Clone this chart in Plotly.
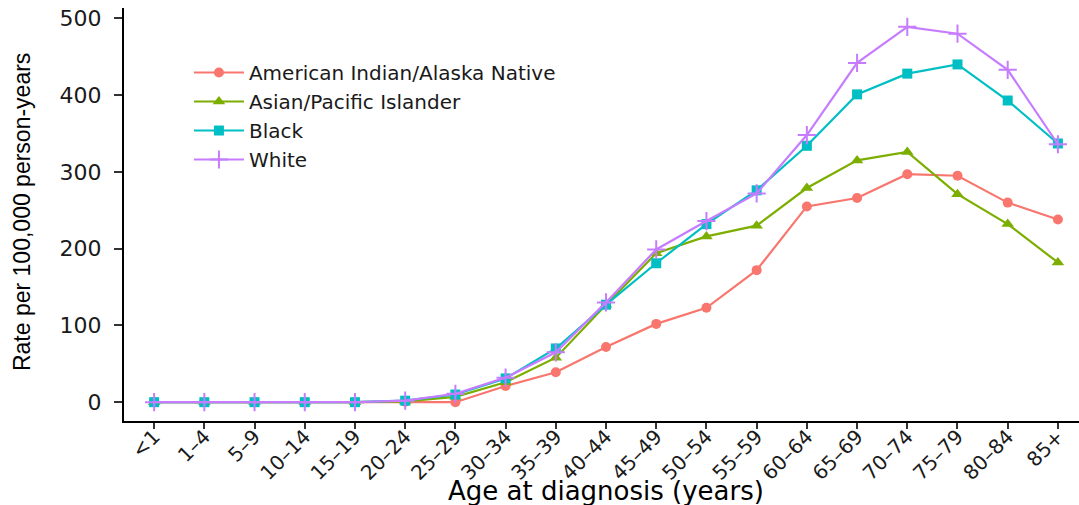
import plotly.graph_objects as go

ages = ["<1", "1-4", "5-9", "10-14", "15-19", "20-24", "25-29", "30-34", "35-39",
        "40-44", "45-49", "50-54", "55-59", "60-64", "65-69", "70-74", "75-79",
        "80-84", "85+"]
tick_labels = [a.replace("-", "–") for a in ages]

aian = [0, 0, 0, 0, 0, 0.5, 0, 21, 39, 72, 102, 123, 172, 255, 266, 297, 295, 260, 238]
api = [0, 0, 0, 0, 0, 1, 7, 26, 58, 127, 194, 216, 230, 279, 315, 326, 271, 232, 182]
black = [0, 0, 0, 0, 0, 2, 10, 31, 70, 127, 181, 232, 276, 334, 401, 428, 440, 393, 337]
white = [0, 0, 0, 0, 0, 2, 11, 32, 65, 130, 199, 236, 272, 348, 442, 489, 480, 433, 336]

series = [
    ("American Indian/Alaska Native", aian, "#F8766D", "circle", 10),
    ("Asian/Pacific Islander", api, "#7CAE00", "triangle-up", 11),
    ("Black", black, "#00BFC4", "square", 10),
    ("White", white, "#C77CFF", "cross-thin", 13),
]

x_idx = list(range(len(ages)))

fig = go.Figure()
for name, vals, color, sym, size in series:
    marker = dict(color=color, symbol=sym, size=size)
    if sym == "cross-thin":
        marker["line"] = dict(color=color, width=2)
    fig.add_trace(go.Scatter(
        x=x_idx, y=vals, name=name, mode="lines+markers",
        line=dict(color=color, width=2.2), marker=marker,
    ))

fig.update_layout(
    width=1079, height=505,
    margin=dict(l=124, r=0, t=8, b=84),
    paper_bgcolor="white", plot_bgcolor="white",
    font=dict(family="DejaVu Sans", color="black"),
    showlegend=True,
    legend=dict(
        x=0.068, y=0.891, xanchor="left", yanchor="top",
        font=dict(family="DejaVu Sans", size=20, color="#1a1a1a"),
        bgcolor="rgba(0,0,0,0)", tracegroupgap=0, itemwidth=50,
    ),
    xaxis=dict(
        range=[-0.6, 18.42], automargin=False,
        tickmode="array", tickvals=x_idx, ticktext=tick_labels,
        tickangle=-45, tickfont=dict(family="DejaVu Sans", size=20, color="#1a1a1a"),
        showline=True, linecolor="black", linewidth=2, mirror=False,
        ticks="outside", ticklen=6, tickcolor="#333333", tickwidth=1.5,
        ticklabelstandoff=-12, ticklabeloverflow="allow",
        showgrid=False, zeroline=False,
    ),
    yaxis=dict(
        range=[-24.5, 513.5], automargin=False,
        tickvals=[0, 100, 200, 300, 400, 500],
        tickfont=dict(family="DejaVu Sans", size=22, color="#1a1a1a"),
        showline=True, linecolor="black", linewidth=2,
        ticks="outside", ticklen=8, tickcolor="#333333", tickwidth=1.5,
        ticklabelstandoff=8, ticklabeloverflow="allow",
        showgrid=False, zeroline=False,
    ),
    annotations=[
        dict(text="Age at diagnosis (years)", xref="paper", yref="paper",
             x=0.505, y=-0.1695, xanchor="center", yanchor="middle", showarrow=False,
             font=dict(family="DejaVu Sans", size=26, color="black")),
        dict(text="Rate per 100,000 person-years", xref="paper", yref="paper",
             x=-0.1068, y=0.506, xanchor="center", yanchor="middle", showarrow=False,
             textangle=-90,
             font=dict(family="Liberation Sans", size=23, color="black")),
    ],
)

# remove the browser's default 8px body margin so the figure fills the window
fig.write_html("out.html", config={"displayModeBar": False},
               post_script="document.body.style.margin='0';")
